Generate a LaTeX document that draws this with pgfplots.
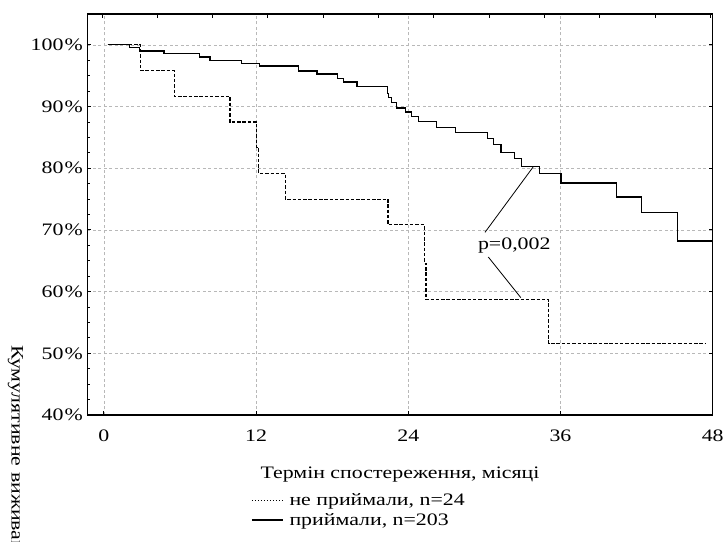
\documentclass[border=0pt]{standalone}
\usepackage{fontspec}
\setmainfont{Liberation Serif}[FakeStretch=1.25]
\usepackage{pgfplots}
\pgfplotsset{compat=1.18}

\pgfplotstableread{
x y
0.3 100
2.05 99.55
2.84 99.0
4.74 98.57
7.52 98.02
8.37 97.49
10.87 96.95
12.25 96.56
15.34 95.75
16.8 95.27
18.4 94.57
18.9 93.97
19.95 93.27
22.36 92.09
22.45 91.44
22.7 90.68
23.1 89.76
23.76 89.11
24.28 88.41
24.8 87.6
26.2 86.58
27.7 85.77
30.25 84.8
30.7 83.83
31.3 82.53
32.4 81.56
32.9 80.31
34.35 79.13
36.05 77.6
40.4 75.33
42.36 72.85
45.25 68.2
48 68.2
}\treated

\pgfplotstableread{
x y
0.3 100
2.9 95.83
5.55 91.67
9.95 87.5
12.05 83.33
12.2 79.17
14.3 75.0
22.4 70.83
25.26 64.6
25.4 58.7
35.07 51.6
47.4 51.6
}\untreated

\begin{document}
\begin{tikzpicture}[font=\fontsize{17.5bp}{21bp}\selectfont]
\begin{axis}[
  at={(87.3bp,127bp)}, anchor=south west,
  scale only axis, width=625.4bp, height=401bp,
  xmin=-1.3, xmax=48, ymin=40, ymax=105,
  xtick={0,12,24,36,48}, ytick={40,50,...,100},
  minor y tick num=3,
  xtick pos=left, ytick pos=left,
  tick align=inside,
  major tick length=4bp, minor tick length=3bp,
  every tick/.style={black, line width=0.9bp},
  grid=major,
  major grid style={dash pattern=on 3bp off 2.5bp, black!28, line width=0.5bp},
  axis line style={line width=1.2bp},
  /pgf/number format/assume math mode=true,
  yticklabel={\pgfmathprintnumber{\tick}\kern1bp\%},
  yticklabel style={xshift=-1bp},
  xticklabel style={yshift=-11bp},
  xlabel={Термін спостереження, місяці},
  xlabel style={yshift=-19bp},
  legend style={at={(0.257,-0.185)}, anchor=north west, draw=none, fill=none,
    font=\fontsize{17.5bp}{21bp}\selectfont, row sep=2.5bp, column sep=4bp},
  legend cell align=left,
  legend image code/.code={\draw[#1] (0bp,0bp) -- (31bp,0bp);},
]
\addplot[black, line width=1.1bp, dash pattern=on 3.5bp off 1.8bp, const plot, forget plot] table[x=x,y=y] {\untreated};
\addlegendimage{black, line width=0.8bp, dash pattern=on 1.2bp off 1.8bp}
\addlegendentry{не приймали, n=24}
\addplot[black, line width=1.3bp, const plot] table[x=x,y=y] {\treated};
\addlegendentry{приймали, n=203}
\draw[line width=0.8bp] (axis cs:30.05,69.61) -- (axis cs:33.84,80.19);
\draw[line width=0.8bp] (axis cs:30.31,65.61) -- (axis cs:32.87,59.03);
\node[anchor=base, inner sep=0pt] at (axis cs:32.36,66.9) {p=0,002};
\end{axis}
\begin{axis}[
  at={(87.3bp,127bp)}, anchor=south west,
  scale only axis, width=625.4bp, height=401bp,
  xmin=-1.3, xmax=48, ymin=40, ymax=105,
  xtick={-0.14,4.22,8.58,12.94,17.3,21.66,26.0,30.4,34.7,39.1,43.5,47.8},
  xticklabels={}, ytick={50,60,...,100}, yticklabels={},
  xtick pos=right, ytick pos=right,
  tick align=inside, major tick length=4bp,
  every tick/.style={black, line width=0.9bp},
  axis line style={line width=1.2bp},
]
\end{axis}
\node[rotate=-90, anchor=base west, inner sep=0pt] at (11.7bp,197bp) {Кумулятивне виживання};
\pgfresetboundingbox
\useasboundingbox (0,0) rectangle (724bp,542bp);
\end{tikzpicture}
\end{document}
